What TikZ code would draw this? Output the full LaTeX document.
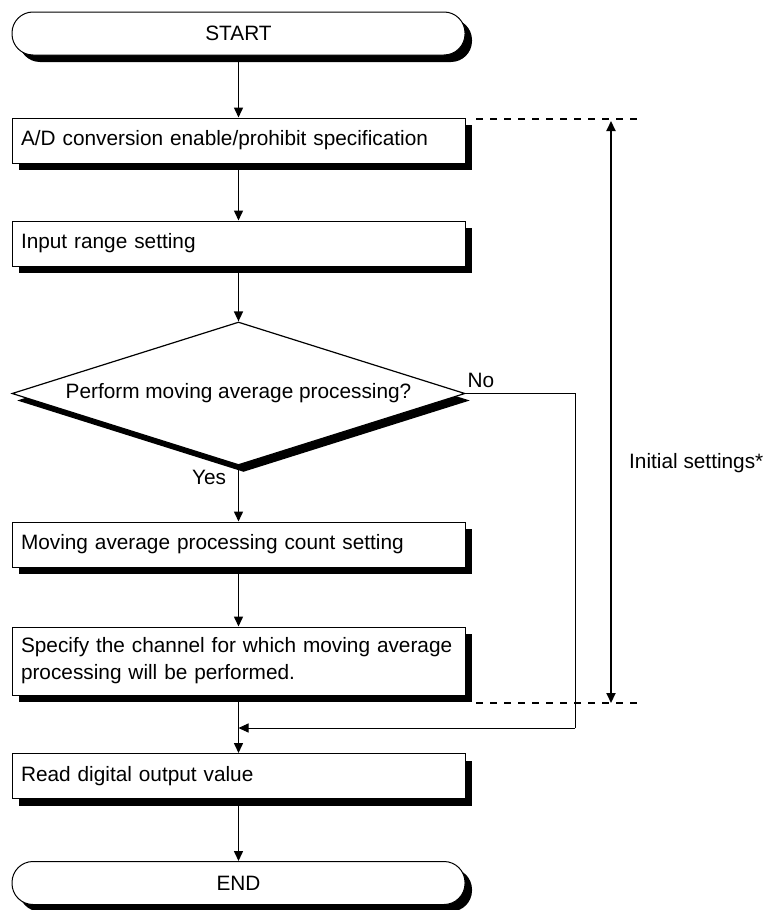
\documentclass[tikz,border=0pt]{standalone}
\usepackage{fontspec}
\setmainfont{Liberation Sans}
\usetikzlibrary{shapes.geometric,shadows,arrows.meta}
\begin{document}
\begin{tikzpicture}[x=1pt,y=-1pt,
  font=\fontsize{20.8}{27}\selectfont,
  shad/.style={drop shadow={shadow xshift=7pt,shadow yshift=-7pt,opacity=1,fill=black}},
  procbox/.style={rectangle,draw,line width=1pt,fill=white,shad,text width=435pt,inner xsep=9pt,inner ysep=0pt,minimum height=45pt,align=left},
  term/.style={rectangle,rounded corners=21pt,draw,line width=1pt,fill=white,shad,minimum width=453pt,minimum height=43pt,inner sep=0pt},
  decbox/.style={diamond,draw,line width=1.2pt,fill=white,drop shadow={shadow xshift=5pt,shadow yshift=-7pt,opacity=1,fill=black},minimum width=453pt,minimum height=143pt,inner sep=0pt,shape aspect=3.17},
  flow/.style={line width=1.5pt,-{Triangle[length=10pt,width=9pt]}},
  noline/.style={line width=1pt},
  dashline/.style={line width=2pt,dash pattern=on 7pt off 7pt},
  span/.style={line width=2pt,{Triangle[length=10pt,width=9pt]}-{Triangle[length=10pt,width=9pt]}},
  lab/.style={inner sep=0pt}
]
\useasboundingbox (0,0) rectangle (767,910);

\node[term] (start) at (238.5,33.5) {START};
\node[procbox] (b1) at (238.5,140.5) {A/D conversion enable/prohibit specification};
\node[procbox] (b2) at (238.5,243.5) {Input range setting};
\node[decbox] (dec) at (238.5,393.5) {Perform moving average processing?};
\node[procbox] (b3) at (238.5,544.5) {Moving average processing count setting};
\node[procbox,minimum height=68pt] (b4) at (238.5,661) {Specify the channel for which moving average\\processing will be performed.};
\node[procbox] (b5) at (238.5,776) {Read digital output value};
\node[term] (end) at (238.5,883) {END};

\draw[flow] (start) -- (b1);
\draw[flow] (b1) -- (b2);
\draw[flow] (b2) -- (dec);
\draw[flow] (dec) -- (b3);
\draw[flow] (b3) -- (b4);
\draw[flow] (b4) -- (b5);
\draw[flow] (b5) -- (end);

\node[lab] (yes) at (209,477) {Yes};
\node[lab] (no) at (481,380) {No};

\coordinate (nocorner) at (575,728);
\coordinate (nojoin) at (238.5,728);
\draw[noline] (dec.east) -| (nocorner);
\draw[noline,-{Triangle[length=10pt,width=9pt]}] (nocorner) -- (nojoin);

\coordinate (dtl) at (476,119);
\coordinate (dtr) at (643,119);
\coordinate (dbl) at (476,703);
\coordinate (dbr) at (643,703);
\draw[dashline] (dtl) -- (dtr);
\draw[dashline] (dbl) -- (dbr);
\coordinate (spantop) at (611,121);
\coordinate (spanbot) at (611,703);
\draw[span] (spantop) -- (spanbot);
\node[lab,anchor=west] (init) at (629,463) {Initial settings*};
\end{tikzpicture}
\end{document}
